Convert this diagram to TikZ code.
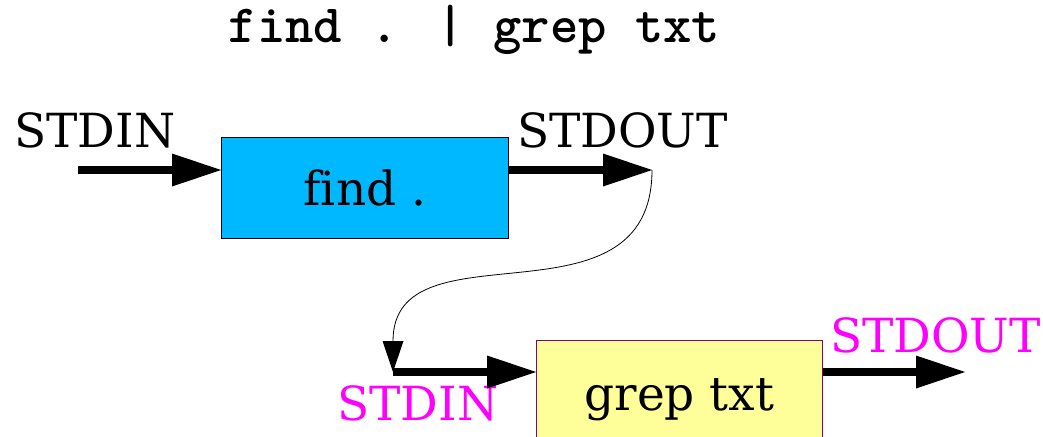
\documentclass[tikz,border=0pt]{standalone}
\usepackage{fontspec}
\setmainfont{DejaVu Serif}[Ligatures=NoCommon]
\usetikzlibrary{positioning,arrows.meta,calc}

\definecolor{findblue}{RGB}{0,184,255}
\definecolor{grepyellow}{RGB}{255,255,153}
\definecolor{grepedge}{RGB}{128,0,128}
\definecolor{streampink}{RGB}{255,0,255}

\begin{document}
\begin{tikzpicture}[
    x=1pt, y=-1pt,
    lbl/.style={font=\fontsize{47}{56}\selectfont, inner sep=0pt, anchor=base west},
    cmd/.style={draw, line width=0.8pt, anchor=north west, inner sep=0pt,
                minimum width=287pt, font=\fontsize{47}{56}\selectfont},
    pipe/.style={-{Triangle[length=49pt, width=33pt, line width=0pt]}, line width=8pt},
    link/.style={-{Triangle[length=31pt, width=21pt, line width=0pt]}, line width=0.8pt},
  ]
  \clip (0,0) rectangle (1043,436);
  \useasboundingbox (0,0) rectangle (1043,436);

  % ============================== Title ===================================
  \node[font=\ttfamily\bfseries\fontsize{54}{63}\selectfont, inner sep=0pt, anchor=base]
    (title) at (474.5,43) {find . | grep txt};

  % ============================== find . ==================================
  \node[cmd, fill=findblue, minimum height=101pt] (find) at (221,137) {find .};
  \coordinate (in1)  at (78,170);
  \coordinate (out1) at (652,170);
  \node[lbl] (stdin1)  at (14,147)  {STDIN};
  \node[lbl] (stdout1) at (517,147) {STDOUT};

  \draw[pipe] (in1) -- (in1 -| find.west);
  \draw[pipe] (out1 -| find.east) -- (out1);

  % ============================== grep txt ================================
  \node[cmd, fill=grepyellow, draw=grepedge, minimum width=286pt,
        minimum height=118pt] (grep) at (536,340) {grep txt};
  \coordinate (in2)  at (393,372);
  \coordinate (out2) at (965,372);
  \node[lbl, text=streampink] (stdin2)  at (337,420) {STDIN};
  \node[lbl, text=streampink] (stdout2) at (830,352) {STDOUT};

  \draw[pipe] (in2) -- (in2 -| grep.west);
  \draw[pipe] (out2 -| grep.east) -- (out2);

  % pipe: STDOUT of find goes to STDIN of grep
  \draw[link] (out1) .. controls (652,335) and (393,220) .. (in2);
\end{tikzpicture}
\end{document}
